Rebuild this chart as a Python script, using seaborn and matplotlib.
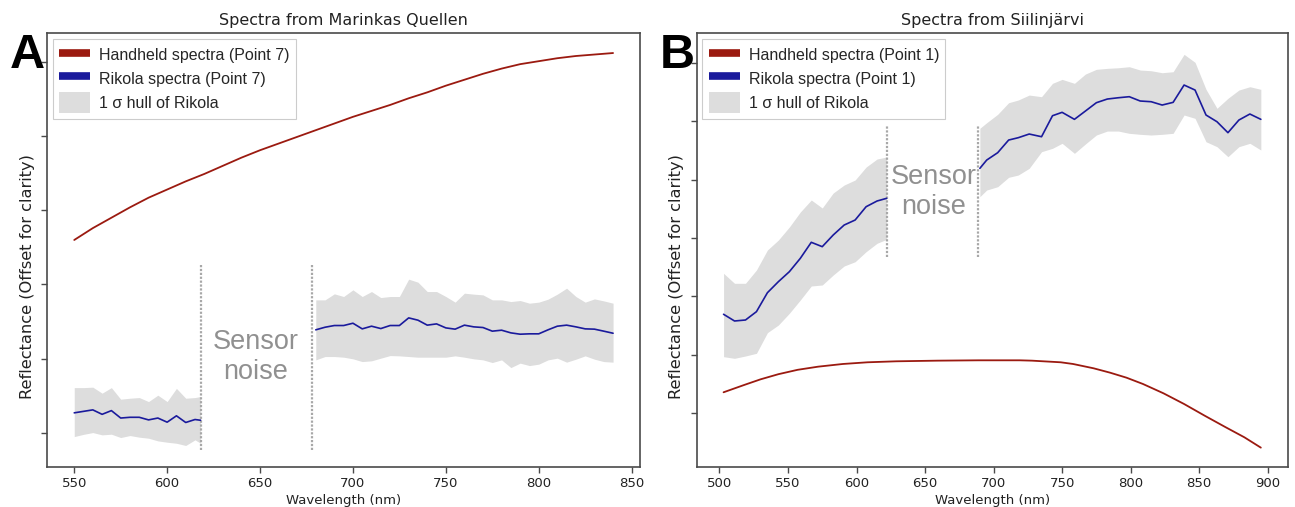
import numpy as np
import pandas as pd
import matplotlib
matplotlib.use("Agg")
import matplotlib.pyplot as plt
import seaborn as sns
from matplotlib.lines import Line2D
from matplotlib.patches import Patch

# ---------------- Panel A: Marinkas Quellen ----------------
a_hand_wl = [550, 560, 570, 580, 590, 600, 610, 620, 630, 640, 650, 660, 670, 680, 690,
             700, 710, 720, 730, 740, 750, 760, 770, 780, 790, 800, 810, 820, 830, 840]
a_hand_refl = [0.360, 0.376, 0.390, 0.404, 0.417, 0.428, 0.439, 0.449, 0.460, 0.471,
               0.481, 0.490, 0.499, 0.508, 0.517, 0.526, 0.534, 0.542, 0.551, 0.559,
               0.568, 0.576, 0.584, 0.591, 0.597, 0.601, 0.605, 0.608, 0.610, 0.612]

a_rik1_wl = [550, 555, 560, 565, 570, 575, 580, 585, 590, 595, 600, 605, 610, 615, 618]
a_rik1_mean = [0.127, 0.129, 0.131, 0.125, 0.130, 0.120, 0.121, 0.121, 0.1175, 0.120,
               0.1144, 0.123, 0.114, 0.118, 0.117]
a_rik1_up = [0.161, 0.161, 0.1616, 0.1535, 0.161, 0.1454, 0.1467, 0.1476, 0.1422, 0.1508,
             0.1422, 0.160, 0.1467, 0.1476, 0.149]
a_rik1_lo = [0.095, 0.098, 0.1004, 0.0973, 0.0982, 0.0937, 0.0964, 0.0942, 0.0928, 0.0892,
             0.0874, 0.086, 0.083, 0.0906, 0.086]

a_rik2_wl = [680, 685, 690, 695, 700, 705, 710, 715, 720, 725, 730, 735, 740, 745, 750, 755,
             760, 765, 770, 775, 780, 785, 790, 795, 800, 805, 810, 815, 820, 825, 830, 835, 840]
a_rik2_mean = [0.2389, 0.2424, 0.2447, 0.2447, 0.2478, 0.2402, 0.2438, 0.2406, 0.2447, 0.2447,
               0.2550, 0.2519, 0.2452, 0.2469, 0.2415, 0.2398, 0.2452, 0.2429, 0.2420, 0.2371,
               0.2384, 0.2348, 0.2330, 0.2335, 0.2335, 0.2389, 0.2438, 0.2452, 0.2429, 0.2402,
               0.2398, 0.2371, 0.2343]
a_rik2_up = [0.2793, 0.2793, 0.2874, 0.2838, 0.2928, 0.2838, 0.2905, 0.2824, 0.2838, 0.2838,
             0.3072, 0.3031, 0.2905, 0.2905, 0.2838, 0.2762, 0.2883, 0.2870, 0.2860, 0.2793,
             0.2793, 0.2770, 0.2784, 0.2748, 0.2762, 0.2802, 0.2870, 0.2950, 0.2838, 0.2762,
             0.2806, 0.2779, 0.2748]
a_rik2_lo = [0.1984, 0.2029, 0.2029, 0.2020, 0.1998, 0.1961, 0.1971, 0.2007, 0.2042, 0.2038,
             0.2029, 0.2020, 0.2020, 0.2020, 0.2020, 0.2038, 0.2020, 0.1998, 0.1984, 0.1948,
             0.1984, 0.1880, 0.1940, 0.1907, 0.1926, 0.1984, 0.2007, 0.1953, 0.1993, 0.2038,
             0.1993, 0.1961, 0.1953]

# ---------------- Panel B: Siilinjärvi ----------------
b_hand_wl = [503, 518, 530, 543, 557, 572, 590, 608, 629, 659, 689, 719, 728, 749, 758,
             773, 785, 797, 809, 824, 839, 854, 869, 883, 895]
b_hand_refl = [0.1355, 0.148, 0.1577, 0.1665, 0.1740, 0.1794, 0.184, 0.1869, 0.1886, 0.1897,
               0.1903, 0.1903, 0.1897, 0.1869, 0.184, 0.1766, 0.1691, 0.1605, 0.1497, 0.1337,
               0.1154, 0.0954, 0.0760, 0.0583, 0.0406]

b_rik1_wl = [503, 511, 519, 527, 535, 543, 551, 559, 567, 575, 583, 591, 599, 607, 615, 622]
b_rik1_mean = [0.2692, 0.2577, 0.2594, 0.2737, 0.3062, 0.3251, 0.3422, 0.3651, 0.3926, 0.3851,
               0.4051, 0.4222, 0.4308, 0.4536, 0.4634, 0.4680]
b_rik1_up = [0.3394, 0.3223, 0.3223, 0.3451, 0.3794, 0.3965, 0.4188, 0.4445, 0.4651, 0.4514,
             0.4771, 0.4908, 0.4994, 0.5216, 0.5354, 0.5388]
b_rik1_lo = [0.1965, 0.1937, 0.1977, 0.2023, 0.2377, 0.2508, 0.2709, 0.2937, 0.3177, 0.3194,
             0.3365, 0.3520, 0.3593, 0.3765, 0.3909, 0.3977]

b_rik2_wl = [690, 695, 703, 711, 718, 726, 735, 743, 750, 759, 767, 775, 783, 791, 799, 807,
             815, 823, 831, 839, 847, 855, 863, 871, 879, 887, 895]
b_rik2_mean = [0.5194, 0.5336, 0.5462, 0.5679, 0.5719, 0.5782, 0.5736, 0.6096, 0.6154, 0.6034,
               0.6176, 0.6319, 0.6382, 0.6404, 0.6422, 0.6348, 0.6336, 0.6279, 0.6325, 0.6622,
               0.6536, 0.6108, 0.5993, 0.5805, 0.6022, 0.6125, 0.6034]
b_rik2_up = [0.588, 0.5976, 0.612, 0.6319, 0.6365, 0.645, 0.6422, 0.6651, 0.6719, 0.6651,
             0.681, 0.6891, 0.6908, 0.6918, 0.6936, 0.6879, 0.6867, 0.6833, 0.685, 0.7148,
             0.7011, 0.6548, 0.6223, 0.6394, 0.6536, 0.6593, 0.6548]
b_rik2_lo = [0.4708, 0.4822, 0.4879, 0.504, 0.5079, 0.5194, 0.5479, 0.5537, 0.5623, 0.5451,
             0.5611, 0.5765, 0.5833, 0.5833, 0.5794, 0.5777, 0.5765, 0.5777, 0.5794, 0.6108,
             0.6051, 0.565, 0.5565, 0.5393, 0.5565, 0.5623, 0.5508]

titles = ["Spectra from Marinkas Quellen", "Spectra from Siilinjärvi"]
panel_letters = ["A", "B"]
point_labels = ["Point 7", "Point 1"]
a_xticks = [550, 600, 650, 700, 750, 800, 850]
b_xticks = [500, 550, 600, 650, 700, 750, 800, 850, 900]
a_yticks = [0.1, 0.2, 0.3, 0.4, 0.5, 0.6]
b_yticks = [0.1, 0.2, 0.3, 0.4, 0.5, 0.6, 0.7]

RED = "#9b1a10"
BLUE = "#1a1a9c"
HULL = "#dddddd"
NOISE = "#909090"
DOT = "#a8a8a8"
SPINE = "#4a4a4a"

sns.set_style("ticks")
plt.rcParams['font.family'] = ['DejaVu Sans']

fig = plt.figure(figsize=(12.95, 5.07), dpi=100)
W, H = 1295, 507
axA = fig.add_axes([47.3 / W, (H - 467) / H, (640 - 47.3) / W, 434 / H])
axB = fig.add_axes([696.7 / W, (H - 467) / H, (1287.7 - 696.7) / W, 434 / H])


def draw_segment(ax, wl, mean, up, lo):
    ax.fill_between(wl, lo, up, color=HULL, lw=0, zorder=1)
    df = pd.DataFrame({"wavelength": wl, "reflectance": mean})
    sns.lineplot(data=df, x="wavelength", y="reflectance", ax=ax, color=BLUE,
                 lw=1.2, zorder=3)


def draw_hand(ax, wl, refl):
    df = pd.DataFrame({"wavelength": wl, "reflectance": refl})
    sns.lineplot(data=df, x="wavelength", y="reflectance", ax=ax, color=RED,
                 lw=1.3, zorder=3)


# Panel A
draw_hand(axA, a_hand_wl, a_hand_refl)
draw_segment(axA, a_rik1_wl, a_rik1_mean, a_rik1_up, a_rik1_lo)
draw_segment(axA, a_rik2_wl, a_rik2_mean, a_rik2_up, a_rik2_lo)
axA.vlines([a_rik1_wl[-1], a_rik2_wl[0] - 2], 0.077, 0.3265, colors=DOT, lw=1.6,
           linestyles=(0, (1, 0.75)), zorder=2)
axA.text(647.5, 0.2025, "Sensor\nnoise", ha="center", va="center", fontsize=19.5,
         color=NOISE, family="Liberation Sans", linespacing=1.2)
axA.set_xlim(535.5, 854.5)
axA.set_ylim(0.054, 0.639)
axA.set_xticks(a_xticks)
axA.set_yticks(a_yticks)

# Panel B
draw_hand(axB, b_hand_wl, b_hand_refl)
draw_segment(axB, b_rik1_wl, b_rik1_mean, b_rik1_up, b_rik1_lo)
draw_segment(axB, b_rik2_wl, b_rik2_mean, b_rik2_up, b_rik2_lo)
axB.vlines([b_rik1_wl[-1], 689], 0.367, 0.592, colors=DOT, lw=1.6,
           linestyles=(0, (1, 0.75)), zorder=2)
axB.text(656, 0.478, "Sensor\nnoise", ha="center", va="center", fontsize=19.5,
         color=NOISE, family="Liberation Sans", linespacing=1.2)
axB.set_xlim(483.4, 914.6)
axB.set_ylim(0.0074, 0.7514)
axB.set_xticks(b_xticks)
axB.set_yticks(b_yticks)

for ax, title, letter, pt, xl in zip([axA, axB], titles, panel_letters, point_labels,
                                     [47.3, 696.7]):
    ax.set_title(title, fontsize=11.5, color="#222222", pad=6)
    ax.set_xlabel("Wavelength (nm)", fontsize=9.5, color="#222222", labelpad=3)
    ax.set_ylabel("Reflectance (Offset for clarity)", fontsize=11.7, color="#222222")
    ax.yaxis.set_label_coords(-0.021, 0.439)
    ax.set_yticklabels([])
    ax.tick_params(axis="both", length=4, width=1, color=SPINE, labelsize=9.5,
                   labelcolor="#222222", pad=3)
    for s in ax.spines.values():
        s.set_visible(True)
        s.set_color(SPINE)
        s.set_linewidth(1.2)
    handles = [Line2D([0], [0], color=RED, lw=5.5, solid_capstyle="butt"),
               Line2D([0], [0], color=BLUE, lw=5.5, solid_capstyle="butt"),
               Patch(facecolor=HULL, edgecolor="none")]
    labels = [f"Handheld spectra ({pt})", f"Rikola spectra ({pt})", "1 σ hull of Rikola"]
    leg = ax.legend(handles, labels, loc="upper left", fancybox=False, framealpha=1,
                    edgecolor="#cccccc", borderaxespad=0.35, handlelength=1.95,
                    handleheight=1.6, labelspacing=0.2, handletextpad=0.55,
                    borderpad=0.4, prop={"family": "Liberation Sans", "size": 11.5})
    leg.get_frame().set_linewidth(0.8)
    fig.text((xl - 37.3) / W, (H - 68) / H, letter, fontsize=35, fontweight="bold",
             family="Liberation Sans", ha="left", va="baseline", color="black")

fig.savefig("out.png", dpi=100)
